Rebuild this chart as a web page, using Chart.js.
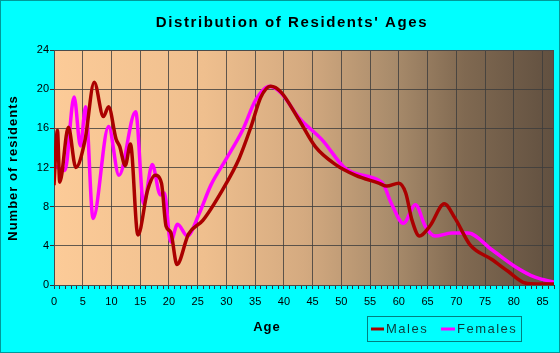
<!DOCTYPE html>
<html>
<head>
<meta charset="utf-8">
<script src="https://cdn.jsdelivr.net/npm/chart.js@4/dist/chart.umd.min.js"></script>
<style>
    html, body { margin: 0; padding: 0; background: #00ffff; overflow: hidden; }
    canvas { display: block; }
</style>
</head>
<body>
<canvas id="ageChart" width="560" height="353"></canvas>
<script>
// values
const maleAges = [0, 0.6, 1, 2.5, 3.8, 5.4, 7, 8.6, 9.5, 10.8, 11.4, 12.4, 13.3, 14.6, 16.3, 17.6, 18.7, 19.5, 20.3, 21.4, 23.4, 25.9, 29.3, 32.2, 34.3, 36, 37.7, 39.5, 42.6, 45.5, 49, 52.5, 56.5, 57.9, 60, 61.2, 62.3, 63.6, 65.5, 67.9, 69.8, 72.4, 76.2, 79, 82, 84, 87];
const maleCounts = [10.2, 15.8, 10.5, 16.1, 12.0, 14.8, 20.7, 17.2, 18.2, 14.9, 14.2, 12.2, 14.4, 5.1, 9.7, 11.2, 10.4, 6.0, 5.4, 2.1, 5.2, 6.6, 9.7, 12.9, 16.2, 19.2, 20.3, 19.7, 16.9, 14.1, 12.3, 11.2, 10.4, 10.1, 10.4, 9.4, 6.6, 5.0, 6.1, 8.3, 6.8, 4.1, 2.6, 1.4, 0.2, 0.1, 0.1];

const femaleAges = [0, 1.9, 3.5, 4.6, 5.5, 6.8, 9.5, 11.3, 14.2, 15.6, 17.1, 18.5, 19.2, 20.3, 21.5, 23.2, 25.2, 27.3, 29.9, 32.8, 35.1, 37.5, 39.5, 42.6, 46.7, 50.7, 56.5, 57.3, 58.8, 60.8, 62.9, 64.6, 66.3, 69.2, 72, 76.2, 80.2, 83.7, 87];
const femaleCounts = [12.2, 11.7, 19.2, 14.2, 18.2, 6.8, 16.2, 11.2, 17.7, 8.3, 12.3, 9.2, 9.4, 4.4, 6.2, 5.0, 7.2, 10.2, 12.8, 15.8, 18.9, 20.3, 19.6, 17.1, 14.8, 11.9, 10.7, 10.3, 8.2, 6.3, 8.2, 6.0, 5.0, 5.3, 5.3, 3.6, 1.9, 0.8, 0.3];

const seriesNames = ["Males", "Females"];
const seriesColors = ["#aa0000", "#ff00ff"];

const ageMax = 87;
const countMax = 24;
const countStep = 4;

function toPoints(xs, ys) {
    return xs.map((x, i) => ({ x, y: ys[i] }));
}

const backdrop = {
    id: "backdrop",
    beforeDraw(chart) {
        const { ctx, chartArea: a } = chart;
        ctx.save();
        ctx.fillStyle = "#00ffff";
        ctx.fillRect(0, 0, chart.width, chart.height);
        ctx.strokeStyle = "#009a9a";
        ctx.lineWidth = 1;
        ctx.strokeRect(0.5, 0.5, chart.width - 1, chart.height - 1);

        const g = ctx.createLinearGradient(a.left, 0, a.right, 0);
        g.addColorStop(0, "#fccb98");
        g.addColorStop(0.3, "#efbf8e");
        g.addColorStop(0.5, "#d4aa80");
        g.addColorStop(0.68, "#a88b6b");
        g.addColorStop(0.82, "#806951");
        g.addColorStop(1, "#615040");
        ctx.fillStyle = g;
        ctx.fillRect(a.left, a.top, a.right - a.left, a.bottom - a.top);
        ctx.restore();
    },
    beforeDatasetsDraw(chart) {
        const { ctx, chartArea: a } = chart;
        ctx.save();
        ctx.strokeStyle = "#4a4a4a";
        ctx.lineWidth = 1;
        ctx.strokeRect(a.left + 0.5, a.top + 0.5, a.right - a.left - 1, a.bottom - a.top);
        ctx.restore();
    }
};

const labels = {
    id: "labels",
    afterDraw(chart) {
        const { ctx } = chart;
        ctx.save();
        ctx.fillStyle = "#000";
        ctx.textBaseline = "middle";

        // title
        ctx.font = "bold 15px 'Liberation Sans', Arial, sans-serif";
        ctx.letterSpacing = "1.6px";
        ctx.textAlign = "center";
        ctx.fillText("Distribution of Residents' Ages", 292, 23);

        // axis titles
        ctx.font = "bold 13px 'Liberation Sans', Arial, sans-serif";
        ctx.letterSpacing = "1px";
        ctx.fillText("Age", 267, 327);
        ctx.save();
        ctx.translate(13, 168);
        ctx.rotate(-Math.PI / 2);
        ctx.fillText("Number of residents", 0, 0);
        ctx.restore();

        // legend
        ctx.strokeStyle = "#008080";
        ctx.lineWidth = 1;
        ctx.strokeRect(367.5, 316.5, 154, 25);
        ctx.font = "13px 'Liberation Sans', Arial, sans-serif";
        ctx.letterSpacing = "1.5px";
        ctx.textAlign = "left";
        const items = [
            { x: 371, w: 13 },
            { x: 441, w: 14 }
        ];
        items.forEach((it, i) => {
            ctx.strokeStyle = seriesColors[i];
            ctx.lineWidth = 3;
            ctx.beginPath();
            ctx.moveTo(it.x, 329);
            ctx.lineTo(it.x + it.w, 329);
            ctx.stroke();
            ctx.fillStyle = "#0b3b3b";
            ctx.fillText(seriesNames[i], it.x + it.w + 2, 329);
        });
        ctx.restore();
    }
};

new Chart(document.getElementById("ageChart"), {
    type: "line",
    data: {
        datasets: [
            {
                label: seriesNames[0],
                data: toPoints(maleAges, maleCounts),
                borderColor: seriesColors[0],
                borderWidth: 3.5,
                pointRadius: 0,
                cubicInterpolationMode: "monotone",
                fill: false
            },
            {
                label: seriesNames[1],
                data: toPoints(femaleAges, femaleCounts),
                borderColor: seriesColors[1],
                borderWidth: 3.5,
                pointRadius: 0,
                cubicInterpolationMode: "monotone",
                fill: false
            }
        ]
    },
    options: {
        responsive: false,
        animation: false,
        events: [],
        layout: {
            padding: { left: 0, top: 50, right: 6, bottom: 0 }
        },
        plugins: {
            legend: { display: false },
            title: { display: false },
            tooltip: { enabled: false }
        },
        scales: {
            x: {
                type: "linear",
                min: 0,
                max: ageMax,
                afterFit: s => { s.height = 68; },
                border: { display: true, color: "#333", width: 1 },
                grid: {
                    color: c => (c.tick && c.tick.value % 5 === 0 ? "rgba(60,60,60,0.8)" : "transparent"),
                    tickColor: "#333",
                    tickLength: 4
                },
                ticks: {
                    stepSize: 1,
                    autoSkip: false,
                    maxRotation: 0,
                    padding: 6,
                    color: "#000",
                    font: { family: "'Liberation Sans', Arial, sans-serif", size: 11 },
                    callback: v => (v % 5 === 0 ? v : "")
                }
            },
            y: {
                min: 0,
                max: countMax,
                afterFit: s => { s.width = 54; },
                border: { display: true, color: "#333", width: 1 },
                grid: {
                    color: "rgba(60,60,60,0.8)",
                    tickColor: "#333",
                    tickLength: 4
                },
                ticks: {
                    stepSize: countStep,
                    padding: 1,
                    color: "#000",
                    font: { family: "'Liberation Sans', Arial, sans-serif", size: 11 }
                }
            }
        }
    },
    plugins: [backdrop, labels]
});
</script>
</body>
</html>
